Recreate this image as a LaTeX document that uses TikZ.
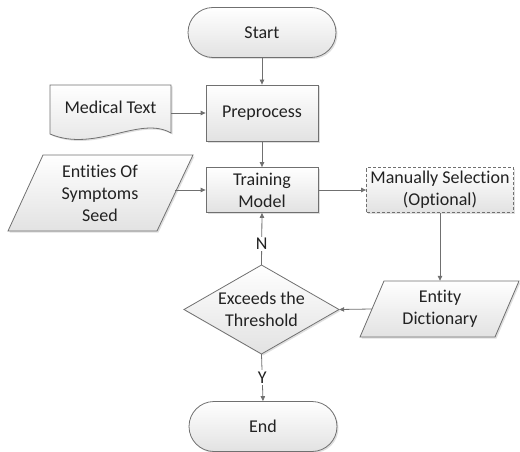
\documentclass[tikz,border=0pt]{standalone}
\usepackage{fontspec}
\setmainfont{Carlito}[Ligatures={NoCommon}]
\usetikzlibrary{arrows.meta,shadows}
\definecolor{lc}{HTML}{707070}
\definecolor{fb}{HTML}{E2E2E2}
\definecolor{tc}{HTML}{222222}
\begin{document}
\begin{tikzpicture}[x=1pt,y=-1pt,
  font=\fontsize{18}{22}\selectfont,
  box/.style={draw=lc, line width=0.8pt, top color=white, bottom color=fb,
    drop shadow={shadow xshift=1.5pt, shadow yshift=-1.5pt, opacity=0.25},
    align=center, inner sep=0pt, text=tc},
  txt/.style={align=center, inner sep=0pt, text=tc},
  term/.style={box, rounded corners=25pt, minimum width=148pt, minimum height=50pt},
  proc/.style={box, minimum width=112pt},
  arr/.style={draw=lc, line width=0.8pt, -{Triangle[length=5pt,width=4.5pt]}},
  lbl/.style={fill=white, inner sep=1.5pt, text=tc}]
\useasboundingbox (0,0) rectangle (520,452);

% Start / End
\node[term] (start) at (262,32.5) {Start};
\node[term] (end) at (263,426.5) {End};

% Processes
\node[proc, minimum height=56pt] (pre) at (262,113) {Preprocess};
\node[proc, minimum height=45pt] (trn) at (262,190) {Training\\Model};
\node[proc, minimum width=147pt, minimum height=45pt, dashed, dash pattern=on 3pt off 2pt]
  (man) at (440,190) {Manually Selection\\(Optional)};

% Medical text document
\path[box] (50,85) -- (171,85) -- (171,133)
  .. controls (140,115) and (95,153) .. (50,134) -- cycle;
\node[txt, minimum width=121pt] (med) at (110.5,107) {Medical Text};

% Entities parallelogram
\path[box] (43,155) -- (193,155) -- (157,231) -- (8,231) -- cycle;
\node[txt, minimum width=150pt, minimum height=76pt] (ent) at (100,193) {Entities Of\\Symptoms\\Seed};

% Entity dictionary parallelogram
\path[box] (384,281) -- (519,281) -- (495,337) -- (360,337) -- cycle;
\node[txt, minimum width=136pt, minimum height=56pt] (ed) at (440,309) {Entity\\Dictionary};

% Decision
\path[box] (184,309.5) -- (261.5,265) -- (339,309.5) -- (261.5,354) -- cycle;
\node[txt, minimum width=155pt, minimum height=89pt] (dia) at (261.5,309.5) {Exceeds the\\Threshold};

% Connectors
\draw[arr] (start) -- (pre);
\draw[arr] (pre.west -| med.east) -- (pre.west);
\draw[arr] (pre) -- (trn);
\draw[arr] (trn.west -| ent.east) -- (trn.west);
\draw[arr] (trn) -- (man);
\draw[arr] (man.south) -- (ed.north);
\draw[arr] (ed.west) -- (dia.east);
\draw[arr] (dia.north) -- node[lbl, pos=0.4] {N} (trn.south);
\draw[arr] (dia.south) -- node[lbl, pos=0.5] {Y} (end.north);
\end{tikzpicture}
\end{document}
